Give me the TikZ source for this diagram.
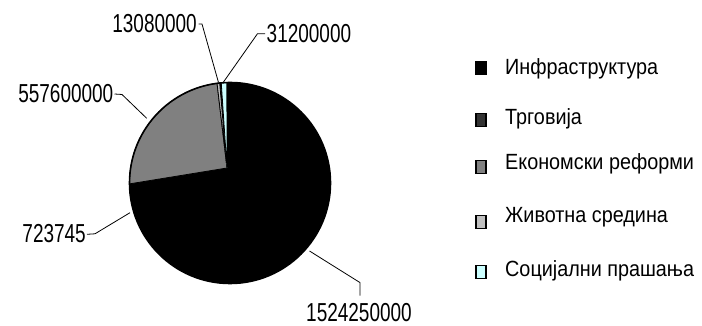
\documentclass[tikz,border=0pt]{standalone}
\usepackage{fontspec}
\setmainfont{Liberation Sans}
\newfontfamily\numfont[FakeStretch=0.73]{Liberation Sans}
\newfontfamily\legfont[FakeStretch=0.9]{Liberation Sans}
\usetikzlibrary{calc}
\definecolor{sgray}{RGB}{128,128,128}
\definecolor{sdark}{RGB}{51,51,51}
\definecolor{slight}{RGB}{192,192,192}
\definecolor{scyan}{RGB}{204,255,255}
\begin{document}
\begin{tikzpicture}[x=1pt,y=1pt,
  numlabel/.style={font=\numfont\fontsize{26}{28}\selectfont, inner sep=0pt},
  legtext/.style={font=\legfont\fontsize{22}{24}\selectfont, inner sep=0pt, anchor=base west},
  legbox/.style={draw=black, line width=1.1pt, minimum width=10pt, minimum height=13pt, inner sep=0pt},
  leader/.style={draw=black, line width=0.8pt},
  slice/.style={draw=black, line width=0.8pt}]
\useasboundingbox (0,0) rectangle (702,326);
\coordinate (C) at (230,143);
\coordinate (V) at (227,158);
\def\R{100.5}
% pie
\fill[black] (C) circle[radius=\R];
\filldraw[slice, fill=sgray] (V) -- ($(C)+(180.5:\R)$) arc[start angle=180.5, end angle=97.4, radius=\R] -- cycle;
\filldraw[slice, fill=slight] (V) -- ($(C)+(97.4:\R)$) arc[start angle=97.4, end angle=95.9, radius=\R] -- cycle;
\filldraw[slice, fill=scyan] (V) -- ($(C)+(95.0:\R)$) arc[start angle=95.0, end angle=91.8, radius=\R] -- cycle;
\draw[black, line width=1.6pt] (C) circle[radius=\R];
% leader targets
\coordinate (p13) at (218.5,243.5);
\coordinate (p31) at (223.5,244);
\coordinate (p557) at (146.7,207.7);
\coordinate (p723) at (130,113.3);
\coordinate (p152) at (309.5,75);
% value labels
\node[numlabel, anchor=east] (n13) at (197,302) {13080000};
\node[numlabel, anchor=west] (n31) at (266.5,292.3) {31200000};
\node[numlabel, anchor=east] (n557) at (113.5,232) {557600000};
\node[numlabel, anchor=east] (n723) at (86,92.7) {723745};
\node[numlabel] (n152) at (359,13) {1524250000};
% leaders
\draw[leader] (n13.east) ++(1.5,0) -- ++(3.5,0) -- (p13);
\draw[leader] (n31.west) ++(-1.5,0) -- ++(-7.5,0) -- (p31);
\draw[leader] (n557.east) ++(1,0) -- ++(7.5,-0.5) -- (p557);
\draw[leader] (n723.east) ++(1,-1) -- ++(8,0.5) -- (p723);
\draw[leader] (n152.north) ++(1,8) -- ++(0,13) -- (p152);
% legend
\node[legbox, fill=black] (b1) at (481,258) {};
\node[legbox, fill=sdark] (b2) at (481,206) {};
\node[legbox, fill=sgray] (b3) at (481,159) {};
\node[legbox, fill=slight] (b4) at (481,104) {};
\node[legbox, fill=scyan] (b5) at (481,54) {};
\node[legtext] (t1) at (505,251.7) {Инфраструктура};
\node[legtext] (t2) at (505,201) {Трговија};
\node[legtext] (t3) at (505,156) {Економски реформи};
\node[legtext] (t4) at (505,103.7) {Животна средина};
\node[legtext] (t5) at (505,49.3) {Социјални прашања};
\end{tikzpicture}
\end{document}
